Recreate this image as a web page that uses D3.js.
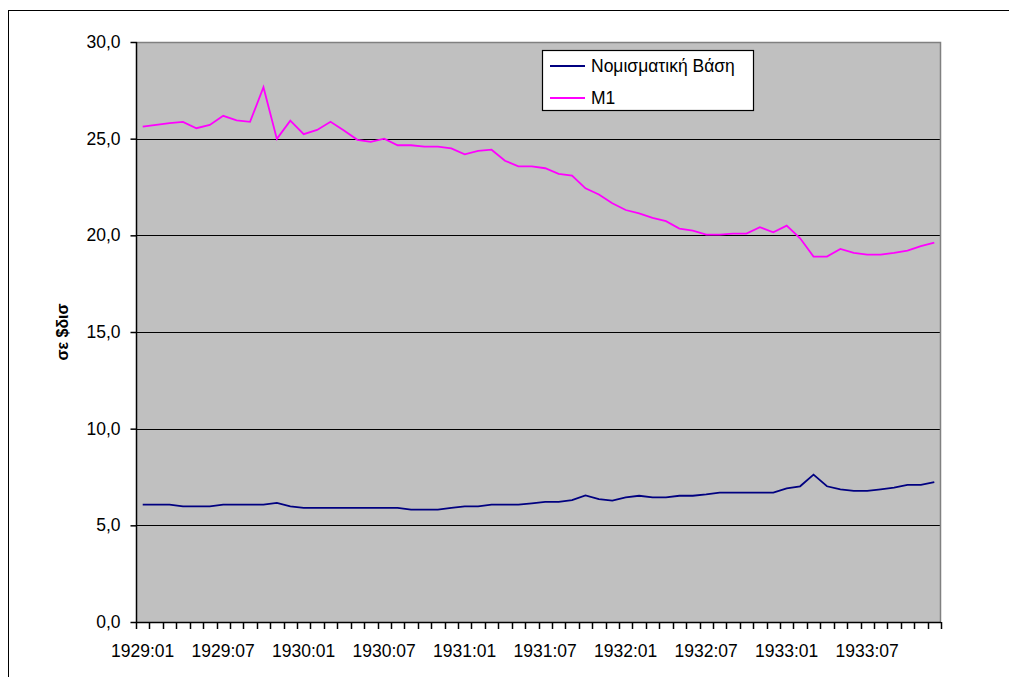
<!DOCTYPE html>
<html>
<head>
<meta charset="utf-8">
<script src="https://cdn.jsdelivr.net/npm/d3@7"></script>
<style>
  html, body { margin: 0; padding: 0; background: #fff; }
  svg { display: block; font-family: "Liberation Sans", Arial, sans-serif; }
</style>
</head>
<body>
<div id="graphic"></div>
<script>
// categories: months 1929:01 .. 1933:12
const years = [1929, 1930, 1931, 1932, 1933];
const months = ['01', '02', '03', '04', '05', '06', '07', '08', '09', '10', '11', '12'];
const categories = years.flatMap((y) => months.map((m) => `${y}:${m}`));

// Νομισματική Βάση (navy)
const baseValues = [
  6.07, 6.07, 6.07, 5.98, 5.98, 5.98, 6.07, 6.07, 6.07, 6.07, 6.16, 5.98,
  5.90, 5.90, 5.90, 5.90, 5.90, 5.90, 5.90, 5.90, 5.81, 5.81, 5.81, 5.90,
  5.98, 5.98, 6.07, 6.07, 6.07, 6.14, 6.21, 6.21, 6.30, 6.55, 6.36, 6.28,
  6.45, 6.53, 6.45, 6.45, 6.53, 6.53, 6.60, 6.69, 6.69, 6.69, 6.69, 6.69,
  6.91, 7.02, 7.62, 7.02, 6.86, 6.78, 6.78, 6.86, 6.95, 7.09, 7.09, 7.24
];

// M1 (magenta)
const m1Values = [
  25.62, 25.71, 25.80, 25.87, 25.54, 25.71, 26.18, 25.95, 25.87, 27.66, 24.99, 25.93,
  25.23, 25.45, 25.87, 25.42, 24.94, 24.83, 25.00, 24.66, 24.66, 24.59, 24.59, 24.50,
  24.19, 24.37, 24.43, 23.86, 23.57, 23.57, 23.47, 23.18, 23.09, 22.43, 22.11, 21.66,
  21.31, 21.14, 20.90, 20.73, 20.35, 20.24, 20.04, 20.04, 20.09, 20.09, 20.42, 20.16,
  20.50, 19.85, 18.90, 18.90, 19.30, 19.09, 19.00, 19.00, 19.09, 19.21, 19.44, 19.62
];

const yTicks = [0, 5, 10, 15, 20, 25, 30];
const xLabelEvery = 6;

const seriesList = [
  { name: 'Νομισματική Βάση', values: baseValues, colour: '#000080' },
  { name: 'M1', values: m1Values, colour: '#ff00ff' }
];

const width = 1009, height = 677;
const plot = { left: 136, right: 941, top: 42, bottom: 622 };

const svg = d3.select('#graphic').append('svg')
  .attr('width', width)
  .attr('height', height);

// outer chart area border (extends past the picture)
svg.append('rect')
  .attr('x', 8.5).attr('y', 10.5)
  .attr('width', 1100).attr('height', 800)
  .attr('fill', '#fff')
  .attr('stroke', '#000');

const x = d3.scaleBand()
  .domain(categories)
  .range([plot.left, plot.right])
  .padding(0);

const y = d3.scaleLinear()
  .domain([0, 30])
  .range([plot.bottom, plot.top]);

// plot area
svg.append('rect')
  .attr('x', plot.left).attr('y', plot.top)
  .attr('width', plot.right - plot.left)
  .attr('height', plot.bottom - plot.top)
  .attr('fill', '#c0c0c0');

// gridlines
svg.append('g')
  .selectAll('line')
  .data(yTicks.filter((d) => d > 0 && d < 30))
  .join('line')
  .attr('x1', plot.left).attr('x2', plot.right)
  .attr('y1', (d) => Math.round(y(d)) + 0.5)
  .attr('y2', (d) => Math.round(y(d)) + 0.5)
  .attr('stroke', '#000')
  .attr('stroke-width', 1.2);

// plot border top + right (grey)
svg.append('path')
  .attr('d', `M${plot.left},${plot.top + 0.5}H${plot.right - 0.5}V${plot.bottom}`)
  .attr('fill', 'none')
  .attr('stroke', '#808080')
  .attr('stroke-width', 1.5);

// series lines
const line = d3.line()
  .x((d, i) => x(categories[i]) + x.bandwidth() / 2)
  .y((d) => y(d));

svg.append('g')
  .selectAll('path')
  .data(seriesList)
  .join('path')
  .attr('d', (d) => line(d.values))
  .attr('fill', 'none')
  .attr('stroke', (d) => d.colour)
  .attr('stroke-width', 1.8)
  .attr('stroke-linejoin', 'miter');

// y axis
const commaFormat = d3.formatLocale({ decimal: ',', thousands: '.', grouping: [3], currency: ['', ''] }).format('.1f');

const yAxis = svg.append('g')
  .attr('transform', `translate(${plot.left + 0.5},0)`)
  .call(d3.axisLeft(y).tickValues(yTicks).tickSize(6).tickPadding(10).tickFormat(commaFormat));
yAxis.select('.domain').attr('stroke', '#000').attr('stroke-width', 1.5).attr('d', `M0,${plot.top}V${plot.bottom}`);
yAxis.selectAll('.tick line').attr('stroke', '#000').attr('stroke-width', 1.5);
yAxis.selectAll('.tick text').attr('font-size', 17.5).attr('fill', '#000')
  .attr('font-family', '"Liberation Sans", Arial, sans-serif');

// x axis: ticks on category boundaries
const xAxisG = svg.append('g');
xAxisG.append('line')
  .attr('x1', plot.left).attr('x2', plot.right)
  .attr('y1', plot.bottom + 0.5).attr('y2', plot.bottom + 0.5)
  .attr('stroke', '#000').attr('stroke-width', 1.5);
xAxisG.selectAll('line.tick')
  .data(categories.concat(['end']))
  .join('line')
  .attr('class', 'tick')
  .attr('x1', (d, i) => Math.round(plot.left + i * x.bandwidth()) + 0.5)
  .attr('x2', (d, i) => Math.round(plot.left + i * x.bandwidth()) + 0.5)
  .attr('y1', plot.bottom).attr('y2', plot.bottom + 7)
  .attr('stroke', '#000').attr('stroke-width', 1.5);
xAxisG.selectAll('text')
  .data(categories.filter((d, i) => i % xLabelEvery === 0))
  .join('text')
  .attr('x', (d) => x(d) + x.bandwidth() / 2)
  .attr('y', 657)
  .attr('text-anchor', 'middle')
  .attr('font-size', 17.5)
  .attr('fill', '#000')
  .text((d) => d);

// y axis title
svg.append('text')
  .attr('transform', 'translate(68,332) rotate(-90)')
  .attr('text-anchor', 'middle')
  .attr('font-size', 16)
  .attr('font-weight', 'bold')
  .text('σε $δισ');

// legend
const legend = svg.append('g');
legend.append('rect')
  .attr('x', 542.5).attr('y', 50.5)
  .attr('width', 211).attr('height', 60)
  .attr('fill', '#fff')
  .attr('stroke', '#000')
  .attr('stroke-width', 1.2);
const legendItem = legend.selectAll('g.item')
  .data(seriesList)
  .join('g')
  .attr('class', 'item')
  .attr('transform', (d, i) => `translate(0,${66 + i * 32})`);
legendItem.append('line')
  .attr('x1', 550).attr('x2', 585)
  .attr('stroke', (d) => d.colour)
  .attr('stroke-width', 1.8);
legendItem.append('text')
  .attr('x', 591).attr('y', 6)
  .attr('font-size', 17.5)
  .text((d) => d.name);
</script>
</body>
</html>
